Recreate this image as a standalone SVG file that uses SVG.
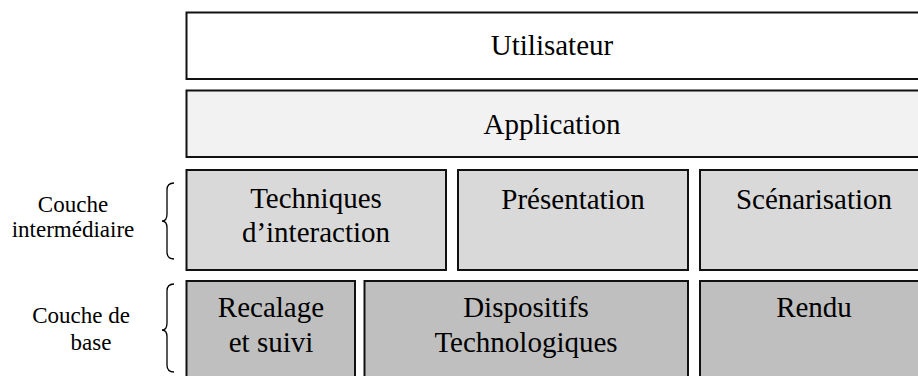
<svg xmlns="http://www.w3.org/2000/svg" width="918" height="376" viewBox="0 0 918 376">
  <style>
    .box { stroke: #111; stroke-width: 2; }
    .top { fill: #ffffff; }
    .app { fill: #f2f2f2; }
    .mid { fill: #d9d9d9; }
    .base { fill: #bfbfbf; }
    .lbl { font-family: "Liberation Serif", "Times New Roman", serif; font-size: 29px; fill: #000; text-anchor: middle; }
    .side { font-family: "Liberation Serif", "Times New Roman", serif; font-size: 23px; fill: #000; text-anchor: middle; }
    .brace { fill: none; stroke: #000; stroke-width: 1.3; }
  </style>

  <g id="utilisateur">
    <rect class="box top" x="186.5" y="12.5" width="745" height="66.5"/>
    <text class="lbl" x="552" y="55">Utilisateur</text>
  </g>

  <g id="application">
    <rect class="box app" x="186.5" y="90.5" width="745" height="66.5"/>
    <text class="lbl" x="552" y="134">Application</text>
  </g>

  <g id="techniques">
    <rect class="box mid" x="186.5" y="170" width="259.5" height="100"/>
    <text class="lbl" x="316" y="208">Techniques</text>
    <text class="lbl" x="316" y="242">d’interaction</text>
  </g>

  <g id="presentation">
    <rect class="box mid" x="458" y="170" width="230" height="100"/>
    <text class="lbl" x="573" y="209">Présentation</text>
  </g>

  <g id="scenarisation">
    <rect class="box mid" x="700" y="170" width="231" height="100"/>
    <text class="lbl" x="814" y="209">Scénarisation</text>
  </g>

  <g id="recalage">
    <rect class="box base" x="186.5" y="281" width="168.5" height="110"/>
    <text class="lbl" x="271" y="317">Recalage</text>
    <text class="lbl" x="271" y="352">et suivi</text>
  </g>

  <g id="dispositifs">
    <rect class="box base" x="364.5" y="281" width="323.5" height="110"/>
    <text class="lbl" x="526" y="317">Dispositifs</text>
    <text class="lbl" x="526" y="352">Technologiques</text>
  </g>

  <g id="rendu">
    <rect class="box base" x="700" y="281" width="231" height="110"/>
    <text class="lbl" x="814" y="317">Rendu</text>
  </g>

  <g id="couche-intermediaire">
    <text class="side" x="73" y="212">Couche</text>
    <text class="side" x="73" y="237">intermédiaire</text>
    <path class="brace" d="M174,183 Q167,183 167,190 L167,214 Q167,221 162,221 Q167,221 167,228 L167,252 Q167,259 174,259"/>
  </g>

  <g id="couche-base">
    <text class="side" x="81" y="323">Couche de</text>
    <text class="side" x="91" y="350">base</text>
    <path class="brace" d="M174,284 Q167,284 167,291 L167,323 Q167,330 162,330 Q167,330 167,337 L167,365 Q167,372 174,372"/>
  </g>

  <g id="connectors"></g>
</svg>
